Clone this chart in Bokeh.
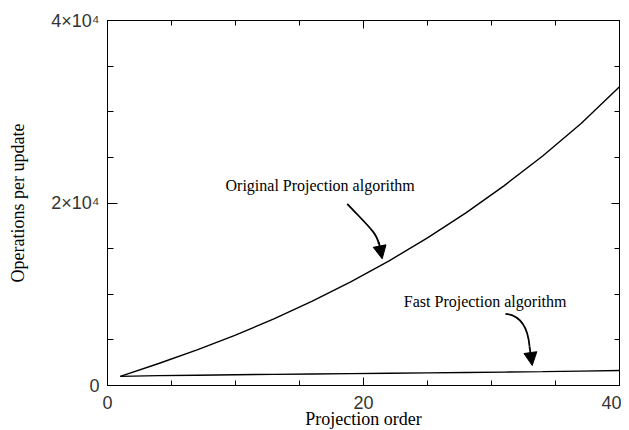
from bokeh.plotting import figure
from bokeh.models import Range1d, LinearAxis, SingleIntervalTicker, Label, Arrow, NormalHead
from bokeh.embed import file_html
from bokeh.resources import INLINE

# ---- data ----
order = [1, 4, 7, 10, 13, 16, 19, 22, 25, 28, 31, 34, 37, 40]
original_ops = [1000, 2410, 3910, 5530, 7300, 9235, 11350, 13660, 16180, 18925,
                21910, 25150, 28720, 32740]
fast_ops = [1000, 1080, 1130, 1180, 1220, 1260, 1300, 1340, 1380, 1420,
            1470, 1520, 1580, 1640]

x_ticks_major = 20
y_ticks_major = 20000
y_tick_labels = {0: "0", 20000: "2×10⁴", 40000: "4×10⁴"}
x_tick_labels = {0: "0", 20: "20", 40: "40"}

SERIF = "Liberation Serif"
SANS = "Liberation Sans"

p = figure(x_range=Range1d(0, 40), y_range=Range1d(0, 40000),
           frame_width=512, frame_height=365, width=621, height=430,
           min_border_left=107, min_border_right=2, min_border_top=20, min_border_bottom=45,
           x_axis_location=None, y_axis_location=None,
           output_backend="svg", toolbar_location=None)
p.xgrid.visible = False
p.ygrid.visible = False
p.outline_line_color = "black"
p.background_fill_color = "white"
p.border_fill_color = "white"

bottom = LinearAxis(ticker=SingleIntervalTicker(interval=x_ticks_major, num_minor_ticks=4))
left = LinearAxis(ticker=SingleIntervalTicker(interval=y_ticks_major, num_minor_ticks=4))
top = LinearAxis(ticker=SingleIntervalTicker(interval=x_ticks_major, num_minor_ticks=4))
right = LinearAxis(ticker=SingleIntervalTicker(interval=y_ticks_major, num_minor_ticks=4))
p.add_layout(bottom, "below")
p.add_layout(left, "left")
p.add_layout(top, "above")
p.add_layout(right, "right")

for ax in [bottom, left, top, right]:
    ax.major_tick_in = 8
    ax.major_tick_out = 0
    ax.minor_tick_in = 5
    ax.minor_tick_out = 0
    ax.axis_line_color = "black"
    ax.major_tick_line_color = "black"
    ax.minor_tick_line_color = "black"
    ax.major_label_text_font = SANS
    ax.major_label_text_font_size = "18px"
    ax.major_label_text_color = "#333333"
    ax.axis_label_text_font = SERIF
    ax.axis_label_text_font_size = "18px"
    ax.axis_label_text_font_style = "normal"
    ax.axis_label_text_color = "black"

left.major_tick_in = 10
left.minor_tick_in = 6
bottom.major_label_overrides = x_tick_labels
left.major_label_overrides = y_tick_labels
bottom.major_label_standoff = 10
left.major_label_standoff = 8

bottom.axis_label = "Projection order"
bottom.axis_label_standoff = -3
left.axis_label = "Operations per update"
left.axis_label_standoff = 20

top.major_label_overrides = {t: "" for t in x_tick_labels}
right.major_label_overrides = {t: "" for t in y_tick_labels}
top.major_label_standoff = 0
right.major_label_standoff = 0

# curves
p.line(order, original_ops, line_color="black", line_width=1.4)
p.line(order, fast_ops, line_color="black", line_width=1.4)

# annotation arrows (curved bodies + filled heads)
p.bezier(x0=[18.73], y0=[19913], x1=[21.2], y1=[15500],
         cx0=[20.39], cy0=[17425], cx1=[21.05], cy1=[16700],
         line_color="black", line_width=1.8)
p.add_layout(Arrow(end=NormalHead(size=13, fill_color="black", line_color="black"),
                   x_start=21.2, y_start=15700, x_end=21.46, y_end=13885,
                   line_color="black", line_width=1.8))

p.bezier(x0=[31.09], y0=[7858], x1=[32.97], y1=[4300],
         cx0=[32.34], cy0=[7671], cx1=[32.85], cy1=[6200],
         line_color="black", line_width=1.8)
p.add_layout(Arrow(end=NormalHead(size=13, fill_color="black", line_color="black"),
                   x_start=32.97, y_start=4300, x_end=33.18, y_end=2192,
                   line_color="black", line_width=1.8))

# text labels
p.add_layout(Label(x=9.22, y=21918, text="Original Projection algorithm",
                   text_font=SERIF, text_font_size="16px", text_color="black",
                   text_baseline="alphabetic", text_align="left"))
p.add_layout(Label(x=23.15, y=9238, text="Fast Projection algorithm",
                   text_font=SERIF, text_font_size="16px", text_color="black",
                   text_baseline="alphabetic", text_align="left"))

open("out.html", "w").write(file_html(p, INLINE))
